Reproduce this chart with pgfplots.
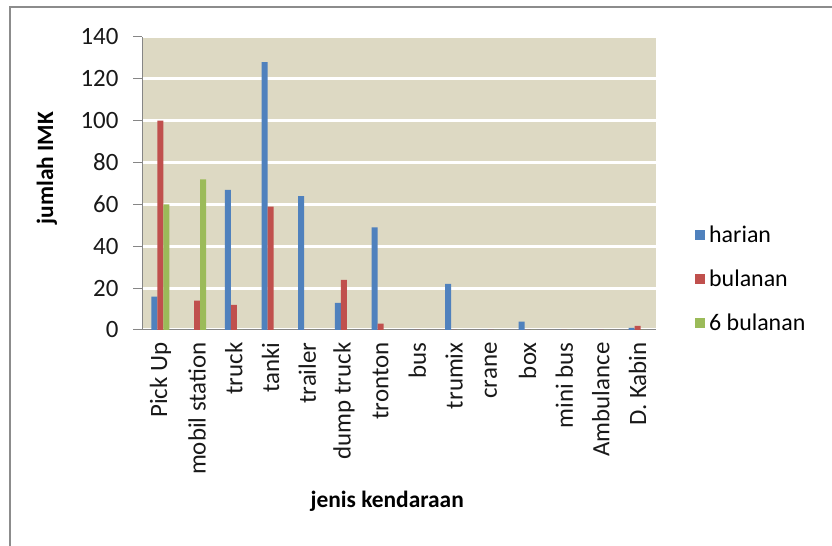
\documentclass[border=0pt]{standalone}
\usepackage{fontspec}
\setmainfont{Carlito}
\usepackage{pgfplots}
\pgfplotsset{compat=1.18}

\definecolor{harian}{HTML}{4F81BD}
\definecolor{bulanan}{HTML}{C0504D}
\definecolor{enam}{HTML}{9BBB59}
\definecolor{plotbg}{HTML}{DDD9C3}
\definecolor{axisgray}{HTML}{868686}
\definecolor{framegray}{HTML}{8C8C8C}

\begin{document}
\begin{tikzpicture}[x=1bp,y=1bp]
\path[use as bounding box] (0,0) rectangle (832,546);
\draw[framegray, line width=2bp] (10,0) -- (10,539) -- (832,539);
\begin{axis}[
  at={(142bp,216bp)}, anchor=south west,
  scale only axis, width=514bp, height=293bp,
  ybar=0pt, bar width=6bp,
  xmin=-0.5, xmax=13.5,
  ymin=0, ymax=140, ytick={0,20,...,140},
  xtick={0,...,13},
  xticklabels={Pick Up,mobil station,truck,tanki,trailer,dump truck,tronton,bus,trumix,crane,box,mini bus,Ambulance,D. Kabin},
  major x tick style={draw=none},
  axis background/.style={fill=plotbg},
  ymajorgrids, grid style={white, line width=3bp},
  axis line style={axisgray, line width=1bp},
  axis x line*=bottom, axis y line*=left,
  y axis line style={-}, x axis line style={-},
  ytick style={axisgray, line width=1bp},
  tick align=outside, major tick length=9bp,
  /pgf/number format/assume math mode=true,
  tick label style={font=\fontsize{25}{30}\selectfont, text=black!90},
  xticklabel style={rotate=90, anchor=east},
  yticklabel style={xshift=-11bp},
  legend style={at={(rel axis cs:1.07,0.37)}, anchor=north west, draw=none, fill=none,
    font=\fontsize{24}{29}\selectfont, row sep=22bp,
    legend cell align=left,
    nodes={inner xsep=4bp}},
  legend image code/.code={\fill[#1,draw=none] (0bp,-5bp) rectangle (10bp,5bp);},
  clip=false,
]
\addplot[fill=harian, draw=none] coordinates {
  (0,16) (1,0) (2,67) (3,128) (4,64) (5,13) (6,49) (7,0) (8,22) (9,0) (10,4) (11,0) (12,0) (13,1)};
\addplot[fill=bulanan, draw=none] coordinates {
  (0,100) (1,14) (2,12) (3,59) (4,0) (5,24) (6,3) (7,0) (8,0) (9,0) (10,0) (11,0) (12,0) (13,2)};
\addplot[fill=enam, draw=none] coordinates {
  (0,60) (1,72) (2,0) (3,0) (4,0) (5,0) (6,0) (7,0) (8,0) (9,0) (10,0) (11,0) (12,0) (13,0)};
\legend{harian,bulanan,6 bulanan}
\node[font=\bfseries\fontsize{23.5}{28}\selectfont] at (axis description cs:0.477,-0.585) {jenis kendaraan};
\node[font=\bfseries\fontsize{23.5}{28}\selectfont, rotate=90] at (axis description cs:-0.185,0.553) {jumlah IMK};
\end{axis}
\end{tikzpicture}
\end{document}
